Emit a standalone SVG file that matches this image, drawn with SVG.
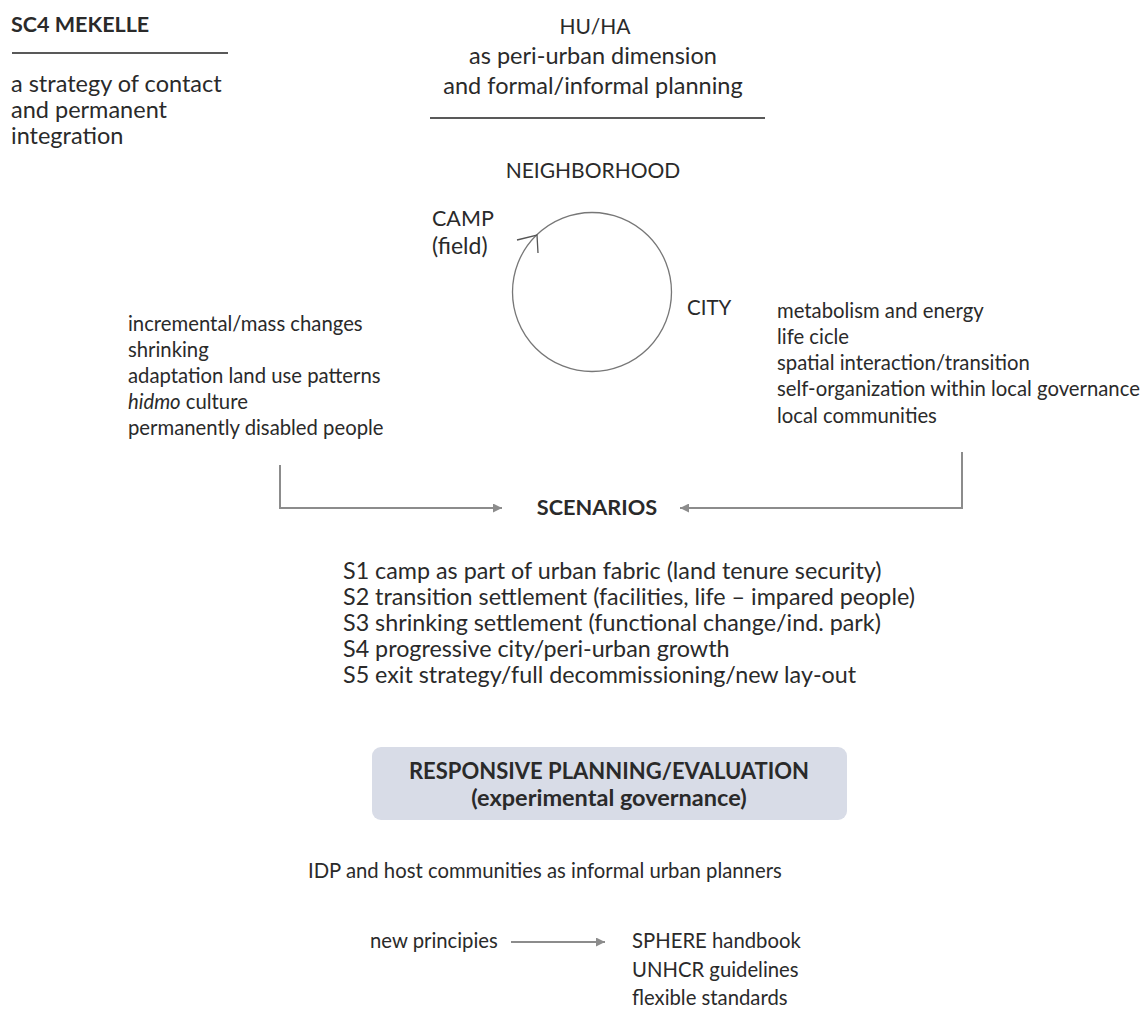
<svg xmlns="http://www.w3.org/2000/svg" width="1145" height="1011" viewBox="0 0 1145 1011">
<style>
text{font-family:Lato,"Liberation Sans",sans-serif;fill:#2a2a2a}
.t{font-size:23.5px}
.l{font-size:20.3px}
.s{font-size:23.3px}
.m{font-size:20.3px}
.b{font-weight:bold}
.c{text-anchor:middle}
.rule{stroke:#222;stroke-width:1.5}
.con{stroke:#8c8c8c;stroke-width:2;fill:none}
</style>
<defs>
<marker id="ah" viewBox="0 0 10 10" refX="10" refY="5" markerWidth="5" markerHeight="4.5" orient="auto" markerUnits="strokeWidth">
<path d="M0,0 L10,5 L0,10 z" fill="#8c8c8c"/>
</marker>
</defs>
<rect width="1145" height="1011" fill="#fff"/>
<g id="title">
<text class="b" font-size="21.5" x="11" y="32">SC4 MEKELLE</text>
<line class="rule" x1="12" y1="53" x2="228" y2="53"/>
<text class="t" x="11" y="92">a strategy of contact</text>
<text class="t" x="11" y="118">and permanent</text>
<text class="t" x="11" y="144">integration</text>
</g>
<g id="huha">
<text class="c" font-size="21" x="595" y="34">HU/HA</text>
<text class="t c" x="593" y="64">as peri-urban dimension</text>
<text class="t c" x="593" y="94">and formal/informal planning</text>
<line class="rule" x1="430" y1="118" x2="765" y2="118"/>
</g>
<g id="neighborhood">
<text class="c" font-size="21" x="593" y="178">NEIGHBORHOOD</text>
<circle cx="592" cy="292" r="79.5" fill="none" stroke="#777" stroke-width="1.3"/>
<polyline points="517,240 537,235 538,253" fill="none" stroke="#555" stroke-width="1.3"/>
</g>
<g id="camp">
<text font-size="21.5" x="432" y="226">CAMP</text>
<text font-size="23" x="432" y="254">(field)</text>
</g>
<g id="city">
<text font-size="20.5" x="687" y="315">CITY</text>
</g>
<g id="left-list">
<text class="l" x="128" y="331">incremental/mass changes</text>
<text class="l" x="128" y="357">shrinking</text>
<text class="l" x="128" y="383">adaptation land use patterns</text>
<text class="l" x="128" y="409"><tspan font-style="italic">hidmo</tspan> culture</text>
<text class="l" x="128" y="435">permanently disabled people</text>
</g>
<g id="right-list">
<text class="l" x="777" y="318">metabolism and energy</text>
<text class="l" x="777" y="344">life cicle</text>
<text class="l" x="777" y="370">spatial interaction/transition</text>
<text class="l" x="777" y="396">self-organization within local governance</text>
<text class="l" x="777" y="423">local communities</text>
</g>
<g id="scenarios">
<text class="b c" font-size="21.7" x="597" y="515">SCENARIOS</text>
<text class="s" x="343" y="579">S1 camp as part of urban fabric (land tenure security)</text>
<text class="s" x="343" y="605">S2 transition settlement (facilities, life – impared people)</text>
<text class="s" x="343" y="631">S3 shrinking settlement (functional change/ind. park)</text>
<text class="s" x="343" y="657">S4 progressive city/peri-urban growth</text>
<text class="s" x="343" y="683">S5 exit strategy/full decommissioning/new lay-out</text>
</g>
<g id="responsive">
<rect x="372" y="747" width="475" height="73" rx="9" fill="#d8dce7"/>
<text class="b c" font-size="22" x="609" y="779">RESPONSIVE PLANNING/EVALUATION</text>
<text class="b c" font-size="23.5" x="609" y="806">(experimental governance)</text>
</g>
<g id="idp">
<text class="m" x="308" y="878">IDP and host communities as informal urban planners</text>
</g>
<g id="principles">
<text class="m" x="370" y="948">new principies</text>
</g>
<g id="standards">
<text class="m" x="632" y="948">SPHERE handbook</text>
<text class="m" x="632" y="977">UNHCR guidelines</text>
<text class="m" x="632" y="1005">flexible standards</text>
</g>
<g id="connectors">
<polyline class="con" points="280,465 280,508 502,508" marker-end="url(#ah)"/>
<polyline class="con" points="962,452 962,508 680,508" marker-end="url(#ah)"/>
<line class="con" x1="511" y1="942" x2="605" y2="942" marker-end="url(#ah)"/>
</g>
</svg>
